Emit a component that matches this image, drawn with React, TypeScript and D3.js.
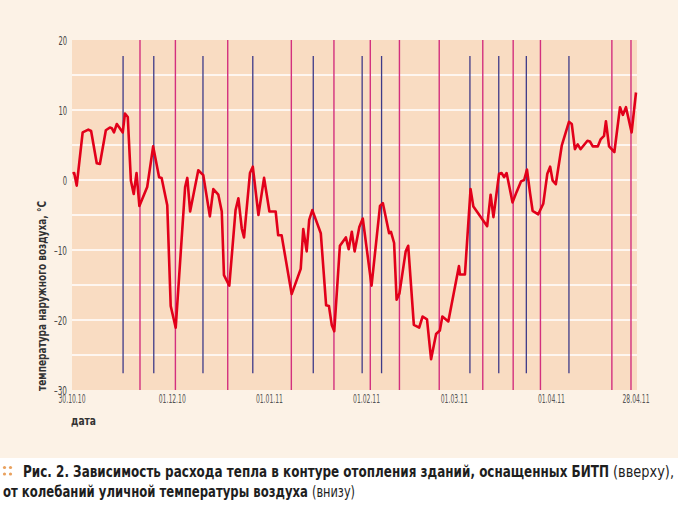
import React from "react";
import * as d3 from "d3";

// days since 30.10.10
const days = [0.2,0.7,1.5,3.4,5.2,6.1,7.9,8.9,10.8,12.1,12.7,13.4,14.3,15.1,16.2,16.9,17.8,18.8,19.7,20.6,21.5,24.0,25.9,27.8,28.6,30.4,31.5,33.1,36.1,36.8,37.7,40.3,41.9,44.0,45.1,46.7,47.8,48.5,50.2,52.2,53.1,54.2,54.9,56.8,57.7,59.5,61.3,63.0,65.0,65.8,66.9,70.1,73.0,73.8,74.9,75.7,76.7,79.4,81.1,82.0,82.9,83.7,85.5,87.4,88.3,89.3,90.2,91.7,92.8,95.6,98.3,99.2,101.2,101.8,102.8,103.6,104.5,106.5,107.3,109.1,110.8,111.9,113.3,114.6,116.2,117.4,118.2,120.1,123.5,123.8,125.4,127.2,128.1,132.5,133.6,134.5,136.3,137.1,137.9,138.7,140.6,141.9,143.3,144.3,145.2,146.2,147.0,148.8,150.4,151.7,152.6,153.4,154.4,156.3,158.6,159.5,160.5,161.4,162.3,164.5,165.3,166.2,167.8,168.7,169.8,170.4,171.4,173.1,174.9,175.8,176.8,178.6,180.0];
const temps = [0.9,1.0,-0.8,6.8,7.2,7.0,2.4,2.3,7.1,7.5,7.4,6.8,8.0,7.5,6.8,9.5,9.0,-0.1,-2.0,1.0,-3.7,-1.0,4.8,0.4,0.3,-3.6,-18.0,-21.1,-1.0,0.3,-4.5,1.4,0.7,-5.2,-1.3,-2.1,-4.5,-13.6,-15.1,-4.3,-2.6,-7.0,-8.2,1.0,1.9,-5.0,0.3,-4.5,-4.5,-7.9,-7.9,-16.3,-12.7,-7.0,-10.2,-5.7,-4.3,-7.6,-17.9,-18.0,-20.7,-21.6,-9.4,-8.2,-9.9,-7.4,-10.2,-6.7,-5.5,-15.1,-3.7,-3.3,-7.6,-7.4,-9.0,-17.1,-16.2,-10.2,-9.4,-20.7,-21.1,-19.5,-19.9,-25.6,-22.0,-21.5,-19.5,-20.2,-12.3,-13.5,-13.5,-1.3,-3.8,-6.6,-2.1,-5.3,0.9,1.0,0.4,1.0,-3.2,-1.7,-0.2,0.0,1.5,-1.9,-4.4,-4.9,-3.4,0.9,1.9,-0.1,-0.6,4.9,8.3,8.0,4.4,5.1,4.4,5.6,5.5,4.8,4.8,5.8,6.3,8.4,4.8,4.0,10.4,9.3,10.4,6.8,12.5];

const blueDays = [16.3,26.1,41.8,57.7,77.0,92.6,98.8,127.0,136.2,145.0,158.6];
const magentaDays = [21.7,33.0,49.7,70.0,83.6,95.2,104.5,117.2,131.1,140.8,149.5,172.3,178.4];

const dateTickDays = [0,32,63,94,122,153,180];
const dateTickLabels = ["30.10.10","01.12.10","01.01.11","01.02.11","01.03.11","01.04.11","28.04.11"];
const yTicks = [20,10,0,-10,-20,-30];
const yGrid = [15,10,5,0,-5,-10,-15,-20,-25];
const blueRange = [17.7,-27.6];

const FONT = "'Liberation Sans Narrow','DejaVu Sans Condensed','Roboto Condensed',Roboto,sans-serif";

export default function App() {
  const W = 678, H = 510;
  const px0 = 72, px1 = 637, py0 = 40, py1 = 390;
  const x = d3.scaleLinear().domain([0, 180]).range([72, 636]);
  const y = d3.scaleLinear().domain([20, -30]).range([py0, py1]);
  const pts: [number, number][] = days.map((d, i) => [d, temps[i]]);
  const line = d3.line<[number, number]>().x(d => x(d[0])).y(d => y(d[1]));
  const tickLabel = (v: number) => (v < 0 ? "\u2013" + Math.abs(v) : String(v));

  return (
    <svg width={W} height={H} style={{ position: "absolute", left: 0, top: 0 }} fontFamily={FONT}>
      <rect x={0} y={0} width={W} height={H} fill="#ffffff" />
      <rect x={0} y={0} width={W} height={458} fill="#fcf2e6" />
      <rect x={px0} y={py0} width={px1 - px0} height={py1 - py0} fill="#f9dcc2" />
      {yGrid.map(v => (
        <line key={v} x1={px0} x2={px1} y1={y(v)} y2={y(v)} stroke="#ffffff" strokeWidth={1.3} />
      ))}
      {magentaDays.map((d, i) => (
        <line key={"m" + i} x1={x(d)} x2={x(d)} y1={py0} y2={py1} stroke="#d3307e" strokeWidth={1.4} />
      ))}
      {blueDays.map((d, i) => (
        <line key={"b" + i} x1={x(d)} x2={x(d)} y1={y(blueRange[0])} y2={y(blueRange[1])} stroke="#3e3a88" strokeWidth={1.3} />
      ))}
      <path d={line(pts) || ""} fill="none" stroke="#e2001a" strokeWidth={2.6} strokeLinejoin="round" />
      <text transform="translate(46,296) rotate(-90)" textAnchor="middle" fontSize={13} fontWeight="bold" fill="#333" textLength={190} lengthAdjust="spacingAndGlyphs">
        температура наружного воздуха, °С
      </text>
      {yTicks.map(v => {
        const s = tickLabel(v);
        return (
          <text key={v} x={67} y={y(v) + 1} dy="0.35em" textAnchor="end" fontSize={11.5} fill="#444"
            textLength={4.3 * s.length} lengthAdjust="spacingAndGlyphs">
            {s}
          </text>
        );
      })}
      {dateTickDays.map((d, i) => (
        <text key={i} x={x(d)} y={403} textAnchor="middle" fontSize={11.5} fill="#555" textLength={27} lengthAdjust="spacingAndGlyphs">
          {dateTickLabels[i]}
        </text>
      ))}
      <text x={71} y={425} fontSize={13} fontWeight="bold" fill="#333" textLength={25} lengthAdjust="spacingAndGlyphs">дата</text>
      <g fill="#e9a15e">
        <circle cx={4.5} cy={467.5} r={1.6} />
        <circle cx={10.5} cy={467.5} r={1.6} />
        <circle cx={4.5} cy={474} r={1.6} />
        <circle cx={10.5} cy={474} r={1.6} />
      </g>
      <text x={23} y={477} fontSize={15} fontWeight="bold" fill="#1e1e1e" textLength={586} lengthAdjust="spacingAndGlyphs">
        Рис. 2. Зависимость расхода тепла в контуре отопления зданий, оснащенных БИТП
      </text>
      <text x={613} y={477} fontSize={15} fill="#1e1e1e" textLength={61} lengthAdjust="spacingAndGlyphs">
        (вверху),
      </text>
      <text x={3} y={497} fontSize={15} fontWeight="bold" fill="#1e1e1e" textLength={305} lengthAdjust="spacingAndGlyphs">
        от колебаний уличной температуры воздуха
      </text>
      <text x={312} y={497} fontSize={15} fill="#1e1e1e" textLength={43} lengthAdjust="spacingAndGlyphs">
        (внизу)
      </text>
    </svg>
  );
}
